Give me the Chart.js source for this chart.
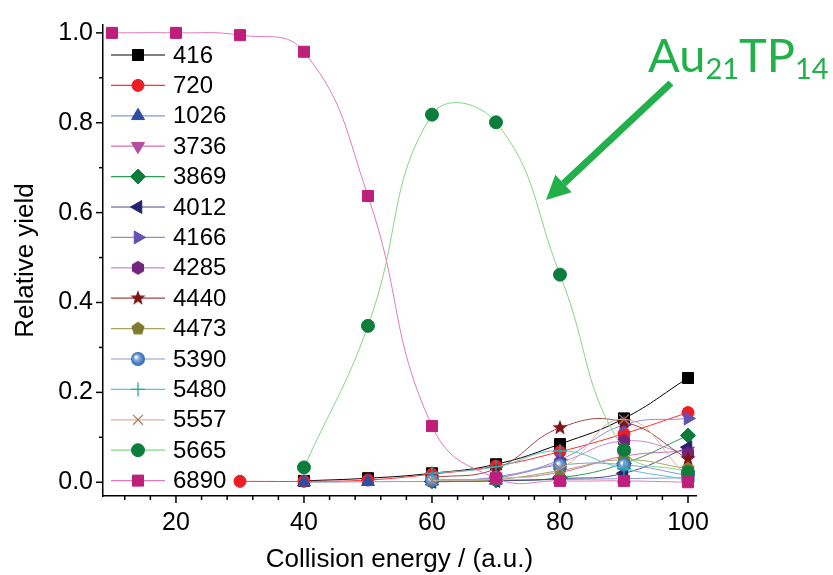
<!DOCTYPE html>
<html>
<head>
<meta charset="utf-8">
<script src="https://cdn.jsdelivr.net/npm/chart.js@4.4.1/dist/chart.umd.min.js"></script>
<style>
html, body { margin: 0; padding: 0; background: #fff; }
</style>
</head>
<body>
<canvas id="yield-chart" width="833" height="575"></canvas>
<script>
// collision energies (x) and relative yields
const energies = [10, 20, 30, 40, 50, 60, 70, 80, 90, 100];
const labels = ['416', '720', '1026', '3736', '3869', '4012', '4166', '4285',
                '4440', '4473', '5390', '5480', '5557', '5665', '6890'];

const y416  = [null, null, null, 0.003, 0.009, 0.020, 0.040, 0.085, 0.142, 0.232];
const y720  = [null, null, 0.002, 0.002, 0.005, 0.018, 0.036, 0.068, 0.108, 0.155];
const y1026 = [null, null, null, 0.000, 0.001, 0.002, 0.004, 0.006, 0.008, 0.010];
const y3736 = [null, null, null, null, null, 0.004, 0.008, 0.022, 0.058, 0.070];
const y3869 = [null, null, null, null, null, 0.002, 0.004, 0.010, 0.042, 0.104];
const y4012 = [null, null, null, null, null, 0.001, 0.003, 0.008, 0.020, 0.078];
const y4166 = [null, null, null, null, null, 0.004, 0.012, 0.050, 0.128, 0.142];
const y4285 = [null, null, null, null, null, 0.004, 0.010, 0.044, 0.092, 0.064];
const y4440 = [null, null, null, null, null, 0.010, 0.030, 0.121, 0.134, 0.052];
const y4473 = [null, null, null, null, null, 0.003, 0.006, 0.026, 0.050, 0.030];
const y5390 = [null, null, null, null, null, 0.004, 0.010, 0.038, 0.039, 0.015];
const y5480 = [null, null, null, null, null, 0.020, 0.034, 0.070, 0.030, 0.006];
const y5557 = [null, null, null, null, null, 0.004, 0.008, 0.030, 0.140, 0.012];
const y5665 = [null, null, null, 0.033, 0.348, 0.818, 0.801, 0.462, 0.072, 0.022];
const y6890 = [1.000, 1.000, 0.995, 0.958, 0.637, 0.125, 0.009, 0.003, 0.003, 0.000];

const xTicks = [12, 16, 20, 24, 28, 32, 36, 40, 44, 48, 52, 56, 60, 64, 68, 72, 76, 80, 84, 88, 92, 96, 100];
const yTicks = [0, 0.1, 0.2, 0.3, 0.4, 0.5, 0.6, 0.7, 0.8, 0.9, 1.0];

const FONT = '"Liberation Sans", Arial, sans-serif';
const GREEN = '#22b04b';

// little canvases for markers chart.js doesn't have
function markerCanvas(kind, fill, r) {
    const s = Math.ceil(2 * r + 2);
    const c = document.createElement('canvas');
    c.width = s; c.height = s;
    const g = c.getContext('2d');
    const cx = s / 2, cy = s / 2;
    g.beginPath();
    if (kind === 'star') {
        for (let i = 0; i < 10; i++) {
            const rr = i % 2 === 0 ? r : r * 0.42;
            const a = -Math.PI / 2 + i * Math.PI / 5;
            g.lineTo(cx + rr * Math.cos(a), cy + rr * Math.sin(a));
        }
    } else if (kind === 'pentagon' || kind === 'hexagon') {
        const n = kind === 'pentagon' ? 5 : 6;
        for (let i = 0; i < n; i++) {
            const a = -Math.PI / 2 + i * 2 * Math.PI / n;
            g.lineTo(cx + r * Math.cos(a), cy + r * Math.sin(a));
        }
    } else if (kind === 'ball') {
        const grad = g.createRadialGradient(cx - r * 0.3, cy - r * 0.3, 0.5, cx, cy, r);
        grad.addColorStop(0, '#ffffff');
        grad.addColorStop(0.35, '#7fa6dc');
        grad.addColorStop(1, fill);
        g.arc(cx, cy, r, 0, Math.PI * 2);
        g.fillStyle = grad;
        g.fill();
        return c;
    }
    g.closePath();
    g.fillStyle = fill;
    g.fill();
    return c;
}

// marker colour, line colour, point style, rotation, radius
const styles = [
    ['#000000', '#000000', 'rect', 0, 7.8],
    ['#ee1c24', '#ff3030', 'circle', 0, 6],
    ['#2e4ea3', '#8a96d6', 'triangle', 0, 7.5],
    ['#b44f9d', '#d070b8', 'triangle', 180, 7.5],
    ['#0d7d3c', '#2e9a5a', 'rectRot', 0, 7.5],
    ['#24236e', '#4a4a90', 'triangle', 270, 7.5],
    ['#6650b4', '#9a86d8', 'triangle', 90, 7.5],
    ['#74237f', '#c88ac8', markerCanvas('hexagon', '#74237f', 7), 0, 7],
    ['#7d1416', '#a34444', markerCanvas('star', '#7d1416', 8), 0, 8],
    ['#7f7a2e', '#a8a460', markerCanvas('pentagon', '#7f7a2e', 7), 0, 7],
    ['#2f62ad', '#7f9fd0', markerCanvas('ball', '#2f62ad', 7), 0, 7],
    ['#27a6a6', '#5cc4c4', 'cross', 0, 7],
    ['#a8825e', '#d2b89c', 'crossRot', 0, 7],
    ['#0d7d3c', '#86d486', 'circle', 0, 6.5],
    ['#be1f7c', '#e07ab8', 'rect', 0, 7.8]
];

const series = [y416, y720, y1026, y3736, y3869, y4012, y4166, y4285,
                y4440, y4473, y5390, y5480, y5557, y5665, y6890];

const datasets = series.map(function (vals, i) {
    const st = styles[i];
    return {
        label: labels[i],
        data: energies.map(function (x, j) { return { x: x, y: vals[j] }; }),
        borderColor: st[1],
        backgroundColor: st[0],
        borderWidth: 1,
        pointStyle: st[2],
        rotation: st[3],
        pointRadius: st[4],
        pointBorderColor: st[0],
        pointBackgroundColor: st[0],
        pointBorderWidth: (st[2] === 'cross' || st[2] === 'crossRot') ? 1.3 : 1,
        tension: 0.45,
        spanGaps: false,
        order: -i
    };
});

// tick marks, legend, annotation
const extras = {
    id: 'extras',
    afterDraw: function (chart) {
        const ctx = chart.ctx;
        const area = chart.chartArea;
        const xs = chart.scales.x, ys = chart.scales.y;
        ctx.save();
        ctx.strokeStyle = '#000';
        ctx.lineWidth = 1.5;
        xTicks.forEach(function (v) {
            const px = xs.getPixelForValue(v);
            const len = v % 20 === 0 ? 7 : 4;
            ctx.beginPath();
            ctx.moveTo(px, area.bottom);
            ctx.lineTo(px, area.bottom + len);
            ctx.stroke();
        });
        yTicks.forEach(function (v) {
            const py = ys.getPixelForValue(v);
            const len = Math.round(v * 10) % 2 === 0 ? 7 : 4;
            ctx.beginPath();
            ctx.moveTo(area.left, py);
            ctx.lineTo(area.left - len, py);
            ctx.stroke();
        });

        // legend
        ctx.font = '24px ' + FONT;
        ctx.textBaseline = 'middle';
        ctx.textAlign = 'left';
        chart.data.datasets.forEach(function (ds, i) {
            const y = area.top + 30 + i * 30.4;
            const x0 = area.left + 8;
            ctx.strokeStyle = ds.borderColor;
            ctx.lineWidth = 1.2;
            ctx.beginPath();
            ctx.moveTo(x0, y);
            ctx.lineTo(x0 + 54, y);
            ctx.stroke();
            ctx.fillStyle = ds.pointBackgroundColor;
            ctx.strokeStyle = ds.pointBorderColor;
            ctx.lineWidth = ds.pointBorderWidth;
            Chart.helpers.drawPoint(ctx, {
                pointStyle: ds.pointStyle,
                rotation: ds.rotation,
                radius: ds.pointRadius,
                borderWidth: ds.pointBorderWidth
            }, x0 + 27, y);
            ctx.fillStyle = '#000';
            ctx.fillText(ds.label, x0 + 62, y + 1);
        });

        // Au21TP14 label + arrow
        ctx.fillStyle = GREEN;
        ctx.textBaseline = 'alphabetic';
        let x = 648;
        const parts = [['Au', 47, 72], ['21', 29, 79], ['TP', 47, 72], ['14', 29, 79]];
        parts.forEach(function (p) {
            ctx.font = p[1] + 'px Lato, "Open Sans", sans-serif';
            ctx.fillText(p[0], x, p[2]);
            x += ctx.measureText(p[0]).width;
        });

        const x1 = 671, y1 = 83, tx = 546, ty = 200;
        const ang = Math.atan2(ty - y1, tx - x1);
        const head = 24, hw = 12;
        const bx = tx - head * Math.cos(ang), by = ty - head * Math.sin(ang);
        ctx.strokeStyle = GREEN;
        ctx.lineWidth = 7;
        ctx.beginPath();
        ctx.moveTo(x1, y1);
        ctx.lineTo(bx, by);
        ctx.stroke();
        ctx.beginPath();
        ctx.moveTo(tx, ty);
        ctx.lineTo(bx + hw * Math.sin(ang), by - hw * Math.cos(ang));
        ctx.lineTo(bx - hw * Math.sin(ang), by + hw * Math.cos(ang));
        ctx.closePath();
        ctx.fill();
        ctx.restore();
    }
};

new Chart(document.getElementById('yield-chart'), {
    type: 'line',
    data: { datasets: datasets },
    plugins: [extras],
    options: {
        responsive: false,
        animation: false,
        layout: { padding: { left: 0, right: 137, top: 17, bottom: 0 } },
        plugins: { legend: { display: false }, tooltip: { enabled: false } },
        scales: {
            x: {
                type: 'linear',
                min: 8.6,
                max: 101.25,
                afterBuildTicks: function (s) { s.ticks = xTicks.map(function (v) { return { value: v }; }); },
                afterFit: function (s) { s.height = 79; },
                grid: { display: false, drawTicks: false },
                border: { color: '#000', width: 1.5 },
                ticks: {
                    autoSkip: false, maxRotation: 0, padding: 12, color: '#000',
                    font: { family: FONT, size: 25 },
                    callback: function (v) { return v % 20 === 0 ? String(v) : ''; }
                },
                title: {
                    display: true, text: 'Collision energy / (a.u.)', color: '#000',
                    font: { family: FONT, size: 26 }, padding: 0
                }
            },
            y: {
                min: -0.0306,
                max: 1.0175,
                afterBuildTicks: function (s) { s.ticks = yTicks.map(function (v) { return { value: v }; }); },
                afterFit: function (s) { s.width = 103; },
                grid: { display: false, drawTicks: false },
                border: { color: '#000', width: 1.5 },
                ticks: {
                    autoSkip: false, padding: 10, color: '#000',
                    font: { family: FONT, size: 25 },
                    callback: function (v) { return Math.round(v * 10) % 2 === 0 ? v.toFixed(1) : ''; }
                },
                title: {
                    display: true, text: 'Relative yield', color: '#000',
                    font: { family: FONT, size: 26 }, padding: { top: 10, bottom: 0 }
                }
            }
        }
    }
});
</script>
</body>
</html>
